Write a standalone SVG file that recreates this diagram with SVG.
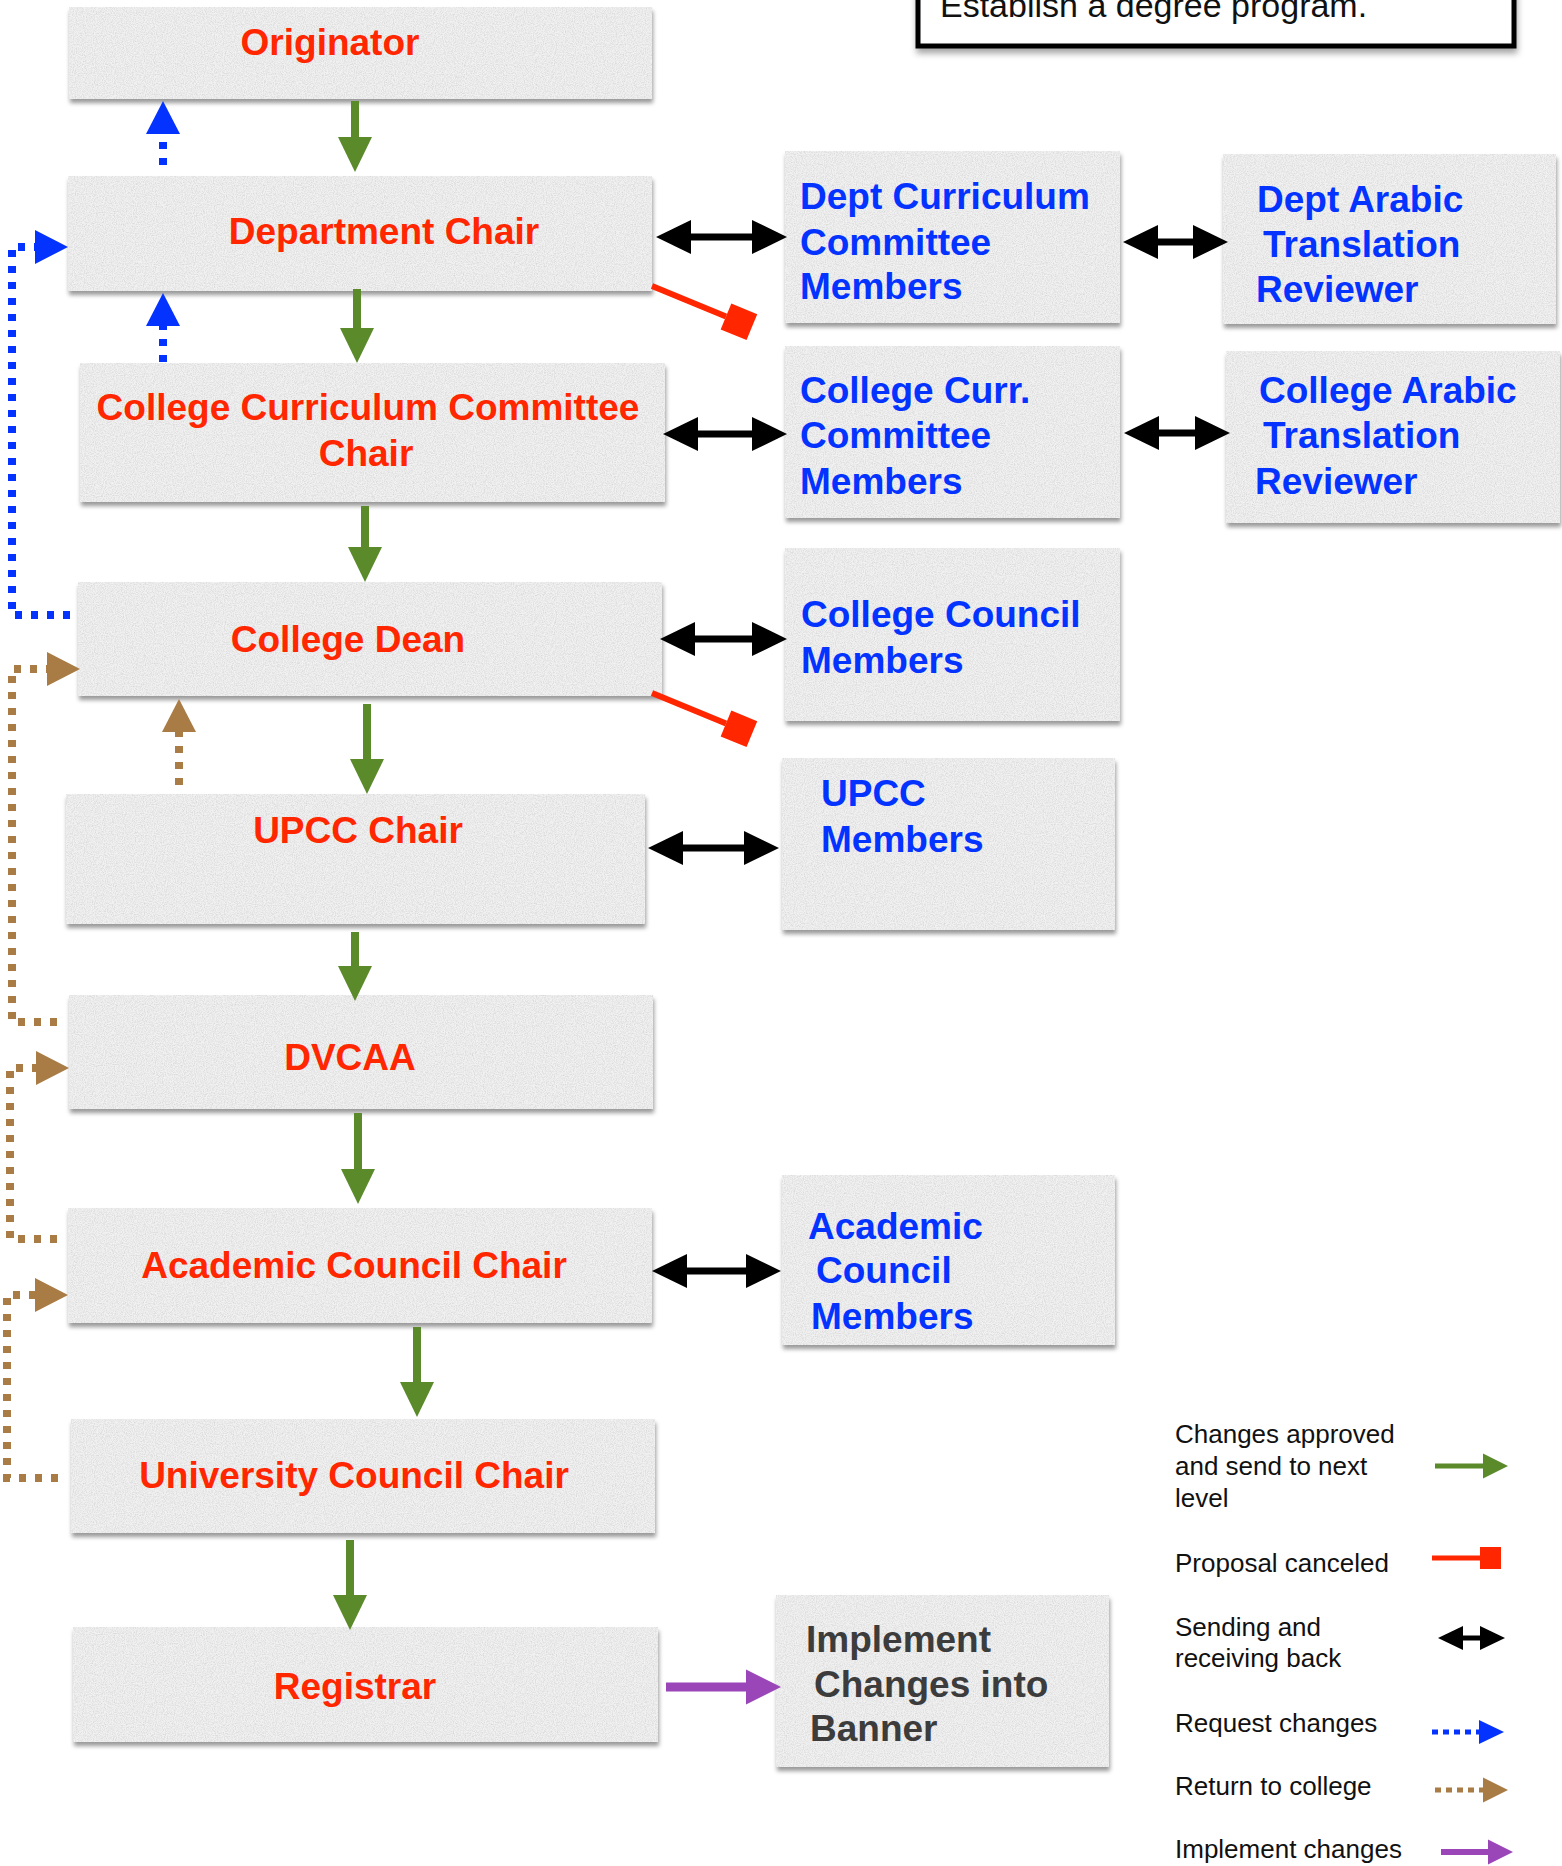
<svg xmlns="http://www.w3.org/2000/svg" width="1562" height="1866" viewBox="0 0 1562 1866">
<style>
.box{fill:#f1f1f1;filter:url(#paper)}
.r{font-family:"Liberation Sans",Arial,sans-serif;font-weight:bold;font-size:37px;fill:#ff2600;text-anchor:middle}
.b{font-family:"Liberation Sans",Arial,sans-serif;font-weight:bold;font-size:37px;fill:#0433ff}
.d{font-family:"Liberation Sans",Arial,sans-serif;font-weight:bold;font-size:37px;fill:#3c3c3c}
.l{font-family:"Liberation Sans",Arial,sans-serif;font-size:26px;fill:#111}
.g{stroke:#5b8a2b;stroke-width:8;fill:none;marker-end:url(#mG)}
.k{stroke:#000;stroke-width:7;fill:none;marker-start:url(#mK);marker-end:url(#mK)}
.bl{stroke:#0433ff;stroke-width:8;fill:none;stroke-dasharray:7 9;marker-end:url(#mB)}
.br{stroke:#a97b45;stroke-width:8;fill:none;stroke-dasharray:7 9;marker-end:url(#mN)}
.rd{stroke:#ff2600;stroke-width:6;fill:none;marker-end:url(#mR)}
.pu{stroke:#9a45b8;stroke-width:9;fill:none;marker-end:url(#mP)}
</style>
<defs>
<filter id="paper" x="-3%" y="-6%" width="108%" height="125%" color-interpolation-filters="sRGB">
<feTurbulence type="fractalNoise" baseFrequency="0.9" numOctaves="2" seed="4" result="n"/>
<feColorMatrix in="n" type="matrix" values="0 0 0 0 0.7  0 0 0 0 0.7  0 0 0 0 0.7  0 0 0 0.8 -0.3" result="sp"/>
<feComposite in="sp" in2="SourceAlpha" operator="in" result="tex"/>
<feGaussianBlur in="SourceAlpha" stdDeviation="2"/>
<feOffset dx="1" dy="4" result="ob"/>
<feFlood flood-color="#000" flood-opacity="0.4"/>
<feComposite in2="ob" operator="in" result="sh"/>
<feMerge><feMergeNode in="sh"/><feMergeNode in="SourceGraphic"/><feMergeNode in="tex"/></feMerge>
</filter>
<filter id="shadow" x="-5%" y="-20%" width="110%" height="160%">
<feGaussianBlur in="SourceAlpha" stdDeviation="3"/>
<feOffset dx="1" dy="5" result="ob"/>
<feFlood flood-color="#000" flood-opacity="0.35"/>
<feComposite in2="ob" operator="in" result="sh"/>
<feMerge><feMergeNode in="sh"/><feMergeNode in="SourceGraphic"/></feMerge>
</filter>
<marker id="mG" markerUnits="userSpaceOnUse" markerWidth="36" markerHeight="36" refX="1" refY="17" orient="auto" overflow="visible"><path d="M0,0 L35,17 L0,34 z" fill="#5b8a2b"/></marker>
<marker id="mK" markerUnits="userSpaceOnUse" markerWidth="36" markerHeight="36" refX="1" refY="17" orient="auto-start-reverse" overflow="visible"><path d="M0,0 L35,17 L0,34 z" fill="#000"/></marker>
<marker id="mB" markerUnits="userSpaceOnUse" markerWidth="36" markerHeight="36" refX="1" refY="17" orient="auto" overflow="visible"><path d="M0,0 L33,17 L0,34 z" fill="#0433ff"/></marker>
<marker id="mN" markerUnits="userSpaceOnUse" markerWidth="36" markerHeight="36" refX="1" refY="17" orient="auto" overflow="visible"><path d="M0,0 L33,17 L0,34 z" fill="#a97b45"/></marker>
<marker id="mP" markerUnits="userSpaceOnUse" markerWidth="36" markerHeight="36" refX="1" refY="17.5" orient="auto" overflow="visible"><path d="M0,0 L35,17.5 L0,35 z" fill="#9a45b8"/></marker>
<marker id="mR" markerUnits="userSpaceOnUse" markerWidth="30" markerHeight="30" refX="0" refY="14" orient="auto" overflow="visible"><rect width="28" height="28" fill="#ff2600"/></marker>
<marker id="sG" markerUnits="userSpaceOnUse" markerWidth="26" markerHeight="26" refX="1" refY="12.5" orient="auto" overflow="visible"><path d="M0,0 L25,12.5 L0,25 z" fill="#5b8a2b"/></marker>
<marker id="sK" markerUnits="userSpaceOnUse" markerWidth="26" markerHeight="26" refX="1" refY="12" orient="auto-start-reverse" overflow="visible"><path d="M0,0 L25,12 L0,24 z" fill="#000"/></marker>
<marker id="sB" markerUnits="userSpaceOnUse" markerWidth="26" markerHeight="26" refX="1" refY="12" orient="auto" overflow="visible"><path d="M0,0 L25,12 L0,24 z" fill="#0433ff"/></marker>
<marker id="sN" markerUnits="userSpaceOnUse" markerWidth="26" markerHeight="26" refX="1" refY="12.5" orient="auto" overflow="visible"><path d="M0,0 L25,12.5 L0,25 z" fill="#a97b45"/></marker>
<marker id="sP" markerUnits="userSpaceOnUse" markerWidth="26" markerHeight="26" refX="1" refY="12.5" orient="auto" overflow="visible"><path d="M0,0 L25,12.5 L0,25 z" fill="#9a45b8"/></marker>
<marker id="sR" markerUnits="userSpaceOnUse" markerWidth="24" markerHeight="24" refX="0" refY="11" orient="auto" overflow="visible"><rect width="21" height="22" fill="#ff2600"/></marker>
</defs>
<rect width="1562" height="1866" fill="#fff"/>

<g id="note">
<rect x="918" y="-30" width="596" height="76" fill="#fff" stroke="#000" stroke-width="5" filter="url(#shadow)"/>
<text x="940" y="17" font-family="Liberation Sans, Arial, sans-serif" font-size="34" fill="#111">Establish a degree program.</text>
</g>

<g id="n-originator"><rect class="box" x="69" y="7" width="583" height="92"/><text class="r" x="330" y="55">Originator</text></g>
<g id="n-dept-chair"><rect class="box" x="68" y="176" width="584" height="115"/><text class="r" x="384" y="244">Department Chair</text></g>
<g id="n-ccc-chair"><rect class="box" x="80" y="363" width="585" height="139"/><text class="r" x="368" y="420">College Curriculum Committee</text><text class="r" x="366" y="466">Chair</text></g>
<g id="n-dean"><rect class="box" x="78" y="582" width="584" height="114"/><text class="r" x="348" y="652">College Dean</text></g>
<g id="n-upcc-chair"><rect class="box" x="66" y="794" width="579" height="130"/><text class="r" x="358" y="843">UPCC Chair</text></g>
<g id="n-dvcaa"><rect class="box" x="69" y="995" width="584" height="114"/><text class="r" x="350" y="1070">DVCAA</text></g>
<g id="n-acc"><rect class="box" x="68" y="1208" width="584" height="115"/><text class="r" x="354" y="1278">Academic Council Chair</text></g>
<g id="n-ucc"><rect class="box" x="71" y="1419" width="584" height="114"/><text class="r" x="354" y="1488">University Council Chair</text></g>
<g id="n-registrar"><rect class="box" x="73" y="1627" width="585" height="115"/><text class="r" x="355" y="1699">Registrar</text></g>

<g id="n-dcc"><rect class="box" x="785" y="151" width="335" height="172"/><text class="b" x="800" y="209">Dept Curriculum</text><text class="b" x="800" y="255">Committee</text><text class="b" x="800" y="299">Members</text></g>
<g id="n-dar"><rect class="box" x="1223" y="154" width="333" height="170"/><text class="b" x="1257" y="212">Dept Arabic</text><text class="b" x="1263" y="257">Translation</text><text class="b" x="1256" y="302">Reviewer</text></g>
<g id="n-ccm"><rect class="box" x="785" y="346" width="335" height="172"/><text class="b" x="800" y="403">College Curr.</text><text class="b" x="800" y="448">Committee</text><text class="b" x="800" y="494">Members</text></g>
<g id="n-car"><rect class="box" x="1226" y="351" width="334" height="172"/><text class="b" x="1259" y="403">College Arabic</text><text class="b" x="1263" y="448">Translation</text><text class="b" x="1255" y="494">Reviewer</text></g>
<g id="n-ccouncil"><rect class="box" x="785" y="548" width="335" height="173"/><text class="b" x="801" y="627">College Council</text><text class="b" x="801" y="673">Members</text></g>
<g id="n-upcc-members"><rect class="box" x="782" y="758" width="333" height="172"/><text class="b" x="821" y="806">UPCC</text><text class="b" x="821" y="852">Members</text></g>
<g id="n-acm"><rect class="box" x="782" y="1175" width="333" height="170"/><text class="b" x="808" y="1239">Academic</text><text class="b" x="816" y="1283">Council</text><text class="b" x="811" y="1329">Members</text></g>
<g id="n-implement"><rect class="box" x="776" y="1595" width="333" height="172"/><text class="d" x="806" y="1652">Implement</text><text class="d" x="814" y="1697">Changes into</text><text class="d" x="810" y="1741">Banner</text></g>

<g id="connectors">
<line class="g" x1="355" y1="101" x2="355" y2="138"/>
<line class="g" x1="357" y1="289" x2="357" y2="329"/>
<line class="g" x1="365" y1="506" x2="365" y2="548"/>
<line class="g" x1="367" y1="704" x2="367" y2="760"/>
<line class="g" x1="355" y1="932" x2="355" y2="967"/>
<line class="g" x1="358" y1="1113" x2="358" y2="1170"/>
<line class="g" x1="417" y1="1327" x2="417" y2="1383"/>
<line class="g" x1="350" y1="1540" x2="350" y2="1596"/>

<line class="k" x1="690" y1="237" x2="753" y2="237"/>
<line class="k" x1="1157" y1="242" x2="1194" y2="242"/>
<line class="k" x1="697" y1="434" x2="753" y2="434"/>
<line class="k" x1="1158" y1="433" x2="1196" y2="433"/>
<line class="k" x1="694" y1="639" x2="753" y2="639"/>
<line class="k" x1="682" y1="848" x2="745" y2="848"/>
<line class="k" x1="686" y1="1271" x2="747" y2="1271"/>

<line class="bl" x1="163" y1="165" x2="163" y2="133"/>
<line class="bl" x1="163" y1="362" x2="163" y2="325"/>
<path class="bl" d="M70,615 H12 V247 H36"/>

<line class="br" x1="179" y1="785" x2="179" y2="731"/>
<path class="br" d="M57,1022 H12 V669 H48"/>
<path class="br" d="M57,1239 H10 V1068 H37"/>
<path class="br" d="M58,1478 H7 V1295 H36"/>

<line class="rd" x1="652" y1="286" x2="726" y2="316.5"/>
<line class="rd" x1="652" y1="693" x2="726" y2="723.5"/>

<line class="pu" x1="666" y1="1687" x2="747" y2="1687"/>
</g>

<g id="legend">
<text class="l" x="1175" y="1443">Changes approved</text>
<text class="l" x="1175" y="1475">and send to next</text>
<text class="l" x="1175" y="1507">level</text>
<line x1="1435" y1="1466" x2="1484" y2="1466" stroke="#5b8a2b" stroke-width="5" marker-end="url(#sG)"/>
<text class="l" x="1175" y="1572">Proposal canceled</text>
<line x1="1432" y1="1558" x2="1480" y2="1558" stroke="#ff2600" stroke-width="5" marker-end="url(#sR)"/>
<text class="l" x="1175" y="1636">Sending and</text>
<text class="l" x="1175" y="1667">receiving back</text>
<line x1="1462" y1="1638" x2="1481" y2="1638" stroke="#000" stroke-width="5" marker-start="url(#sK)" marker-end="url(#sK)"/>
<text class="l" x="1175" y="1732">Request changes</text>
<line x1="1432" y1="1732" x2="1480" y2="1732" stroke="#0433ff" stroke-width="5" stroke-dasharray="6 5" marker-end="url(#sB)"/>
<text class="l" x="1175" y="1795">Return to college</text>
<line x1="1435" y1="1790" x2="1484" y2="1790" stroke="#a97b45" stroke-width="5" stroke-dasharray="6 5" marker-end="url(#sN)"/>
<text class="l" x="1175" y="1858">Implement changes</text>
<line x1="1441" y1="1852" x2="1489" y2="1852" stroke="#9a45b8" stroke-width="6" marker-end="url(#sP)"/>
</g>
</svg>
